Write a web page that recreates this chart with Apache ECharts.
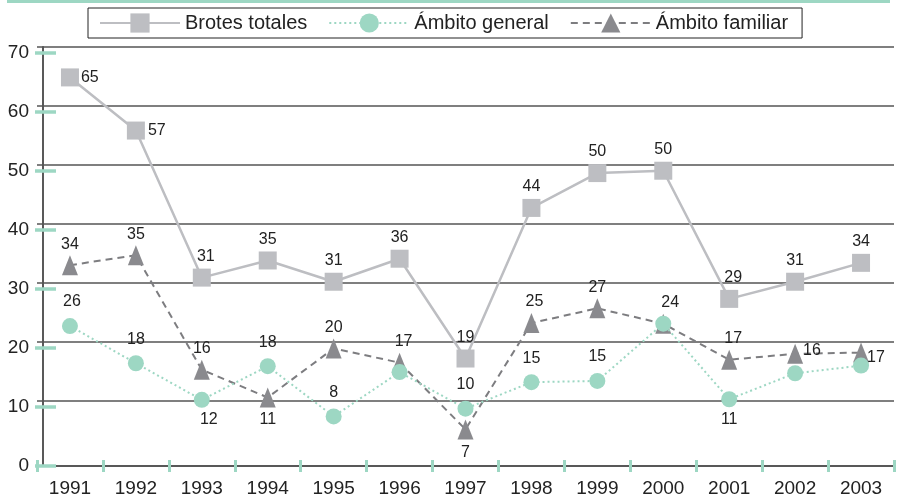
<!DOCTYPE html>
<html>
<head>
<meta charset="utf-8">
<title>Brotes</title>
<script src="https://cdn.jsdelivr.net/npm/echarts@6/dist/echarts.min.js"></script>
<style>
  html, body { margin: 0; padding: 0; background: #fff; }
  #chart { width: 899px; height: 498px; }
</style>
</head>
<body>
<div id="chart"></div>
<script>
  const years = ['1991', '1992', '1993', '1994', '1995', '1996', '1997', '1998', '1999', '2000', '2001', '2002', '2003'];

  // values as the markers sit in the picture
  const brotesTotales = [65.8, 56.8, 31.9, 34.8, 31.2, 35.1, 18.2, 43.7, 49.6, 50.0, 28.3, 31.2, 34.4];
  const ambitoGeneral = [23.7, 17.4, 11.2, 16.9, 8.4, 15.9, 9.7, 14.2, 14.4, 24.1, 11.3, 15.7, 17.0];
  const ambitoFamiliar = [34.0, 35.7, 16.3, 11.6, 19.9, 17.5, 6.2, 24.2, 26.7, 24.1, 18.0, 19.0, 19.2];

  // printed numbers (null = not printed)
  const brotesLabels = [65, 57, 31, 35, 31, 36, 19, 44, 50, 50, 29, 31, 34];
  const generalLabels = [26, 18, 12, 18, 8, null, 10, 15, 15, null, 11, null, null];
  const familiarLabels = [34, 35, 16, 11, 20, 17, 7, 25, 27, 24, 17, 16, 17];

  const yTicks = [0, 10, 20, 30, 40, 50, 60, 70];
  const gridLevels = [11, 21, 31, 41, 51, 61, 71];

  const fontFamily = '"Liberation Sans", Arial, sans-serif';
  const teal = '#9dd7c3';
  const ink = '#222';

  // label placement per point
  const brotesPlaces = {
    0: {pos: 'right', dist: 2},
    1: {pos: 'right', dist: 3},
    2: {off: [4, 0]},
    10: {off: [4, 0]},
  };
  const generalPlaces = {
    0: {off: [2, 0]},
    2: {pos: 'bottom', dist: 4, off: [7, 0]},
    10: {pos: 'bottom', dist: 4},
  };
  const familiarPlaces = {
    3: {pos: 'bottom', dist: 4},
    5: {off: [4, 0]},
    6: {pos: 'bottom', dist: 5},
    7: {off: [3, 0]},
    9: {off: [7, 0]},
    10: {off: [4, 0]},
    11: {pos: 'right', dist: 0, off: [0, -3]},
    12: {pos: 'right', dist: -2, off: [0, 5]},
  };

  function buildData(values, labels, places, defDist) {
    return values.map(function(v, i) {
      const p = places[i] || {};
      if (labels[i] === null) {
        return {value: v, label: {show: false}};
      }
      return {
        value: v,
        label: {
          show: true,
          formatter: String(labels[i]),
          position: p.pos || 'top',
          distance: p.dist !== undefined ? p.dist : defDist,
          offset: p.off || [0, 0],
        },
      };
    });
  }

  const labelStyle = {color: ink, fontSize: 16, fontFamily: fontFamily};

  const myChart = echarts.init(document.getElementById('chart'));

  const option = {
    animation: false,
    backgroundColor: '#fff',
    graphic: [
      {type: 'rect', silent: true, shape: {x: 7, y: 0, width: 883, height: 3}, style: {fill: teal}},
    ],
    legend: {
      data: ['Brotes totales', 'Ámbito general', 'Ámbito familiar'],
      left: 88,
      top: 8,
      padding: [5, 14, 5, 11],
      itemWidth: 80,
      itemHeight: 24,
      itemGap: 21,
      borderColor: ink,
      borderWidth: 1,
      textStyle: {fontSize: 20, color: ink, fontFamily: fontFamily},
    },
    grid: {
      left: 37,
      right: 5,
      top: 46.7,
      bottom: 26,
      containLabel: false,
    },
    xAxis: [
      {
        type: 'category',
        data: years,
        boundaryGap: true,
        axisLine: {lineStyle: {color: ink, width: 1.5}},
        axisTick: {show: true, interval: 0, length: 6, lineStyle: {color: teal, width: 3}},
        axisLabel: {interval: 0, fontSize: 19, color: ink, margin: 13, fontFamily: fontFamily},
        splitLine: {show: false},
      },
      {
        type: 'category',
        data: years,
        position: 'bottom',
        axisLine: {show: false},
        axisLabel: {show: false},
        axisTick: {show: true, inside: true, interval: 0, length: 6, lineStyle: {color: teal, width: 3}},
        splitLine: {show: false},
      },
    ],
    yAxis: [
      {
        type: 'value',
        min: 0,
        max: 71,
        interval: 10,
        offset: -6,
        axisLine: {show: true, lineStyle: {color: ink, width: 1.5}},
        axisTick: {show: true, customValues: yTicks, length: 8, lineStyle: {color: teal, width: 3.5}},
        axisLabel: {customValues: yTicks, fontSize: 19, color: ink, margin: 14, fontFamily: fontFamily},
        splitLine: {show: false},
      },
      {
        type: 'value',
        min: 0,
        max: 71,
        interval: 10,
        offset: -6,
        position: 'left',
        axisLine: {show: false},
        axisLabel: {show: false},
        axisTick: {show: true, inside: true, customValues: yTicks, length: 13, lineStyle: {color: teal, width: 3.5}},
        splitLine: {show: false},
      },
    ],
    series: [
      {
        name: 'Brotes totales',
        type: 'line',
        symbol: 'rect',
        symbolSize: 18,
        z: 2,
        lineStyle: {color: '#bdbec2', width: 2.5, type: 'solid'},
        itemStyle: {color: '#bdbec2'},
        label: labelStyle,
        emphasis: {disabled: true},
        data: buildData(brotesTotales, brotesLabels, brotesPlaces, 4),
        markLine: {
          silent: true,
          z: 1,
          symbol: ['none', 'none'],
          label: {show: false},
          lineStyle: {color: '#555', width: 1.5, type: 'solid'},
          emphasis: {disabled: true},
          data: gridLevels.map(function(v) { return {yAxis: v}; }),
        },
      },
      {
        name: 'Ámbito familiar',
        type: 'line',
        symbol: 'triangle',
        symbolSize: [16, 20],
        z: 3,
        lineStyle: {color: '#7d7d80', width: 2, type: [7, 5]},
        itemStyle: {color: '#8a8a8e'},
        label: labelStyle,
        emphasis: {disabled: true},
        data: buildData(ambitoFamiliar, familiarLabels, familiarPlaces, 3),
      },
      {
        name: 'Ámbito general',
        type: 'line',
        symbol: 'circle',
        symbolSize: 16,
        z: 4,
        lineStyle: {color: teal, width: 2, type: [2, 3]},
        itemStyle: {color: teal},
        label: labelStyle,
        emphasis: {disabled: true},
        data: buildData(ambitoGeneral, generalLabels, generalPlaces, 8),
      },
    ],
  };

  myChart.setOption(option);
</script>
</body>
</html>
